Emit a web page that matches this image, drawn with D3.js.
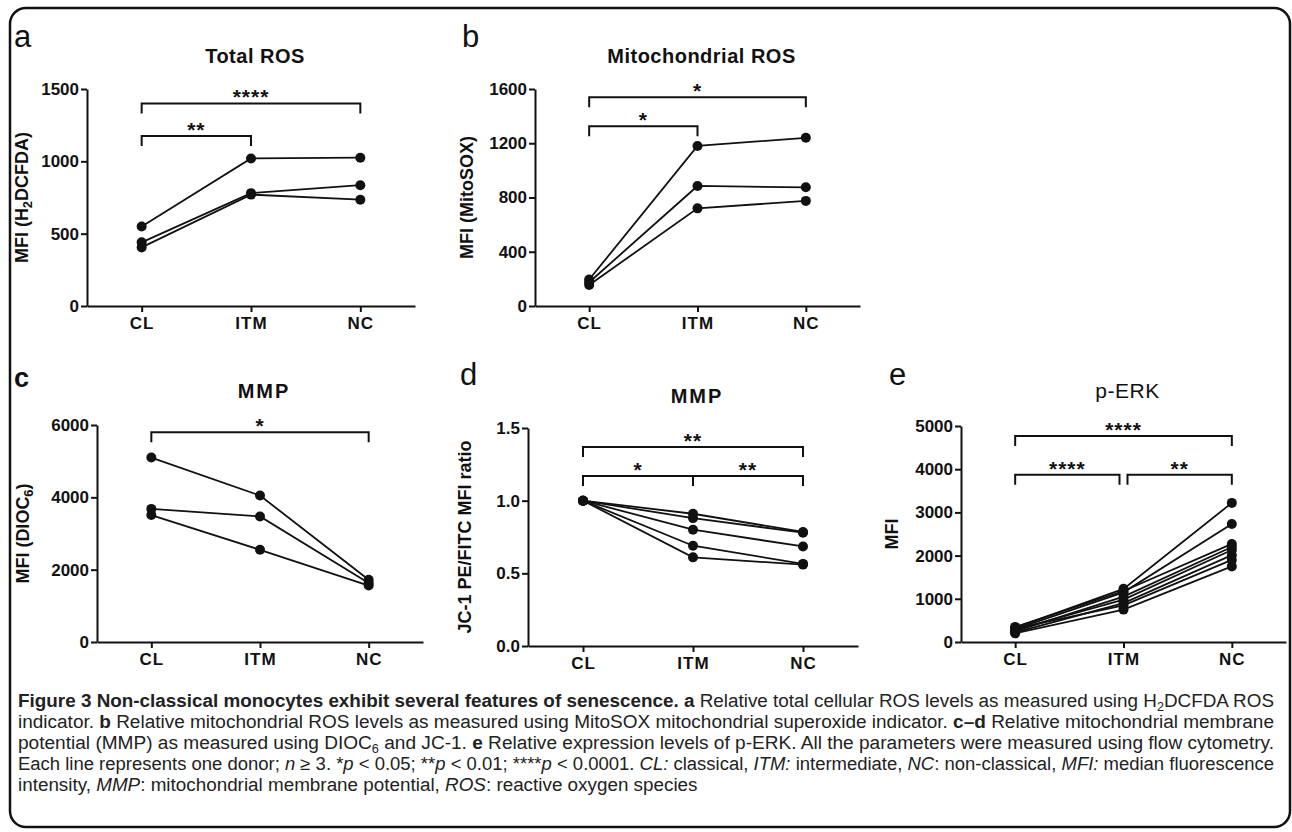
<!DOCTYPE html>
<html>
<head>
<meta charset="utf-8">
<script src="https://cdn.jsdelivr.net/npm/d3@7"></script>
<style>
  body { margin: 0; background: #fff; }
  svg { display: block; }
</style>
</head>
<body>
<svg id="fig" width="1292" height="832"></svg>
<script>
// 0. data (one row per donor: CL, ITM, NC)
const categories = ['CL', 'ITM', 'NC'];

// a. total ROS, MFI (H2DCFDA)
const total_ros = [
  [550, 1020, 1025],
  [440, 780, 835],
  [405, 770, 735]
];
const total_ros_ticks = [0, 500, 1000, 1500];
const total_ros_sig = [['CL', 'NC', '****'], ['CL', 'ITM', '**']];

// b. mitochondrial ROS, MFI (MitoSOX)
const mito_ros = [
  [195, 1180, 1240],
  [175, 885, 875],
  [155, 720, 775]
];
const mito_ros_ticks = [0, 400, 800, 1200, 1600];
const mito_ros_sig = [['CL', 'NC', '*'], ['CL', 'ITM', '*']];

// c. MMP, MFI (DIOC6)
const mmp_dioc = [
  [5100, 4050, 1720],
  [3680, 3470, 1630],
  [3510, 2550, 1560]
];
const mmp_dioc_ticks = [0, 2000, 4000, 6000];
const mmp_dioc_sig = [['CL', 'NC', '*']];

// d. MMP, JC-1 PE/FITC MFI ratio
const mmp_jc1 = [
  [1.0, 0.91, 0.785],
  [1.0, 0.88, 0.78],
  [1.0, 0.80, 0.685],
  [1.0, 0.69, 0.565],
  [1.0, 0.61, 0.56]
];
const mmp_jc1_ticks = [0, 0.5, 1.0, 1.5];
const mmp_jc1_sig = [['CL', 'NC', '**'], ['CL', 'ITM', '*'], ['ITM', 'NC', '**']];

// e. p-ERK, MFI
const p_erk = [
  [330, 1230, 3220],
  [300, 1150, 2730],
  [350, 1180, 2270],
  [250, 1050, 2200],
  [280, 980, 2130],
  [220, 900, 2010],
  [310, 850, 1900],
  [200, 750, 1750]
];
const p_erk_ticks = [0, 1000, 2000, 3000, 4000, 5000];
const p_erk_sig = [['CL', 'NC', '****'], ['CL', 'ITM', '****'], ['ITM', 'NC', '**']];

// caption, one entry per printed line; b = bold, i = italic, sub = subscript
const caption_lines = [
  [{t: 'Figure 3 Non-classical monocytes exhibit several features of senescence.', b: 1}, {t: ' '}, {t: 'a', b: 1},
   {t: ' Relative total cellular ROS levels as measured using H'}, {t: '2', sub: 1}, {t: 'DCFDA ROS'}],
  [{t: 'indicator. '}, {t: 'b', b: 1}, {t: ' Relative mitochondrial ROS levels as measured using MitoSOX mitochondrial superoxide indicator. '},
   {t: 'c\u2013d', b: 1}, {t: ' Relative mitochondrial membrane'}],
  [{t: 'potential (MMP) as measured using DIOC'}, {t: '6', sub: 1}, {t: ' and JC-1. '}, {t: 'e', b: 1},
   {t: ' Relative expression levels of p-ERK. All the parameters were measured using flow cytometry.'}],
  [{t: 'Each line represents one donor; '}, {t: 'n', i: 1}, {t: ' \u2265 3. *'}, {t: 'p', i: 1}, {t: ' < 0.05; **'}, {t: 'p', i: 1},
   {t: ' < 0.01; ****'}, {t: 'p', i: 1}, {t: ' < 0.0001. '}, {t: 'CL:', i: 1}, {t: ' classical, '}, {t: 'ITM:', i: 1},
   {t: ' intermediate, '}, {t: 'NC', i: 1}, {t: ': non-classical, '}, {t: 'MFI:', i: 1}, {t: ' median fluorescence'}],
  [{t: 'intensity, '}, {t: 'MMP', i: 1}, {t: ': mitochondrial membrane potential, '}, {t: 'ROS', i: 1}, {t: ': reactive oxygen species'}]
];

// 1. panel layout (pixels) + annotation levels (data units)
const chart_font = "'Liberation Sans', Arial, sans-serif";
const panels = [
  {letter: 'a', title: 'Total ROS', ylab: [['MFI (H'], ['2', 1], ['DCFDA)']], data: total_ros, ticks: total_ros_ticks,
   fmt: d3.format('d'), sig: total_ros_sig, sig_y: [1400, 1175], gap: 0,
   left: 87, right: 415, top: 89, bottom: 306, ylab_x: 28, letter_xy: [14, 47], title_y: 63},
  {letter: 'b', title: 'Mitochondrial ROS', ylab: [['MFI (MitoSOX)']], data: mito_ros, ticks: mito_ros_ticks,
   fmt: d3.format('d'), sig: mito_ros_sig, sig_y: [1540, 1325], gap: 0,
   left: 535, right: 860, top: 89, bottom: 306, ylab_x: 473, letter_xy: [462, 47], title_y: 63},
  {letter: 'c', title: 'MMP', ylab: [['MFI (DIOC'], ['6', 1], [')']], data: mmp_dioc, ticks: mmp_dioc_ticks,
   fmt: d3.format('d'), sig: mmp_dioc_sig, sig_y: [5800], gap: 0, letter_bold: true,
   left: 97, right: 423, top: 425, bottom: 642, ylab_x: 29, letter_xy: [14, 387], title_y: 398},
  {letter: 'd', title: 'MMP', ylab: [['JC-1 PE/FITC MFI ratio']], data: mmp_jc1, ticks: mmp_jc1_ticks,
   fmt: d3.format('.1f'), sig: mmp_jc1_sig, sig_y: [1.37, 1.17, 1.17], gap: 0,
   left: 528, right: 858, top: 428, bottom: 646, ylab_x: 471, letter_xy: [460, 385], title_y: 403},
  {letter: 'e', title: 'p-ERK', title_regular: true, ylab: [['MFI']], data: p_erk, ticks: p_erk_ticks,
   fmt: d3.format('d'), sig: p_erk_sig, sig_y: [4770, 3870, 3870], gap: 4,
   left: 961, right: 1286, top: 426, bottom: 642, ylab_x: 898, letter_xy: [889, 385], title_y: 398}
];

const svg = d3.select('#fig');

// outer frame
svg.append('rect')
  .attr('x', 10).attr('y', 8)
  .attr('width', 1280).attr('height', 819)
  .attr('rx', 16).attr('ry', 16)
  .attr('fill', 'none')
  .attr('stroke', '#111')
  .attr('stroke-width', 2.5);

// 2. draw one panel
function draw_panel(p){
  const g = svg.append('g').attr('class', 'panel-' + p.letter);

  const y = d3.scaleLinear()
    .domain([0, d3.max(p.ticks)])
    .range([p.bottom, p.top]);

  const x = d3.scalePoint()
    .domain(categories)
    .range([p.left, p.right])
    .padding(0.5);

  // axes
  const y_axis = g.append('g')
    .attr('transform', `translate(${p.left}, 0)`)
    .call(d3.axisLeft(y).tickValues(p.ticks).tickFormat(p.fmt)
      .tickSize(6).tickSizeOuter(0).tickPadding(2));

  const x_axis = g.append('g')
    .attr('transform', `translate(0, ${p.bottom})`)
    .call(d3.axisBottom(x).tickSize(6).tickSizeOuter(0).tickPadding(5));

  [y_axis, x_axis].forEach((a) => {
    a.select('.domain').attr('stroke', '#111').attr('stroke-width', 2);
    a.selectAll('.tick line').attr('stroke', '#111').attr('stroke-width', 2);
    a.selectAll('.tick text')
      .attr('fill', '#111')
      .style('font-family', chart_font)
      .style('font-size', '17px')
      .style('font-weight', 'bold');
  });
  x_axis.selectAll('.tick text').style('letter-spacing', '1px');

  // panel letter
  g.append('text')
    .attr('x', p.letter_xy[0]).attr('y', p.letter_xy[1])
    .style('font-family', chart_font)
    .style('font-size', p.letter_bold ? '27px' : '31px')
    .style('font-weight', p.letter_bold ? 'bold' : 'normal')
    .attr('fill', '#111')
    .text(p.letter);

  // title
  g.append('text')
    .attr('x', (p.left + p.right) / 2 + 4).attr('y', p.title_y)
    .attr('text-anchor', 'middle')
    .style('font-family', chart_font)
    .style('font-size', p.title_regular ? '21px' : '20px')
    .style('font-weight', p.title_regular ? 'normal' : 'bold')
    .style('letter-spacing', p.title === 'MMP' ? '2px' : '0.5px')
    .attr('fill', '#111')
    .text(p.title);

  // y label (rotated, with optional subscript)
  const ylab = g.append('text')
    .attr('transform', `translate(${p.ylab_x}, ${(p.top + p.bottom) / 2}) rotate(-90)`)
    .attr('text-anchor', 'middle')
    .style('font-family', chart_font)
    .style('font-size', '18px')
    .style('font-weight', 'bold')
    .attr('fill', '#111');
  let shift = 0;
  p.ylab.forEach((piece) => {
    const is_sub = piece[1] === 1;
    const dy = (is_sub ? 4 : 0) - shift;
    shift = is_sub ? 4 : 0;
    ylab.append('tspan')
      .attr('dy', dy)
      .style('font-size', is_sub ? '13px' : null)
      .text(piece[0]);
  });

  // donor lines
  const line = d3.line()
    .x((d, i) => x(categories[i]))
    .y((d) => y(d));

  g.append('g').selectAll('path')
    .data(p.data)
    .join('path')
    .attr('d', line)
    .attr('fill', 'none')
    .attr('stroke', '#111')
    .attr('stroke-width', 1.8);

  const pts = [];
  p.data.forEach((row) => row.forEach((v, i) => pts.push([categories[i], v])));
  g.append('g').selectAll('circle')
    .data(pts)
    .join('circle')
    .attr('cx', (d) => x(d[0]))
    .attr('cy', (d) => y(d[1]))
    .attr('r', 5)
    .attr('fill', '#111');

  // significance brackets
  p.sig.forEach((s, k) => {
    let x1 = x(s[0]), x2 = x(s[1]);
    if(p.gap && s[0] === 'ITM'){ x1 += p.gap; }
    if(p.gap && s[1] === 'ITM'){ x2 -= p.gap; }
    const yy = y(p.sig_y[k]);
    g.append('path')
      .attr('d', `M${x1},${yy + 10} V${yy} H${x2} V${yy + 10}`)
      .attr('fill', 'none')
      .attr('stroke', '#111')
      .attr('stroke-width', 2);
    g.append('text')
      .attr('x', (x1 + x2) / 2).attr('y', yy + 1)
      .attr('text-anchor', 'middle')
      .style('font-family', chart_font)
      .style('font-size', '21px')
      .style('font-weight', 'bold')
      .style('letter-spacing', '1px')
      .attr('fill', '#111')
      .text(s[2]);
  });
}

panels.forEach(draw_panel);

// 3. caption (justified lines, squeezed like a condensed face)
function draw_caption(lines, x0, width, y0, lh){
  const texts = [];
  lines.forEach((pieces, li) => {
    const t = svg.append('text')
      .attr('x', x0).attr('y', y0 + li * lh)
      .style('font-family', "'Liberation Sans', Arial, sans-serif")
      .style('font-size', '18px')
      .attr('fill', '#222');
    let shift = 0;
    pieces.forEach((pc) => {
      const dy = (pc.sub ? 4 : 0) - shift;
      shift = pc.sub ? 4 : 0;
      t.append('tspan')
        .attr('dy', dy)
        .style('font-weight', pc.b ? 'bold' : null)
        .style('font-style', pc.i ? 'italic' : null)
        .style('font-size', pc.sub ? '12px' : null)
        .text(pc.t);
    });
    texts.push(t);
  });
  // full width for all but the last line
  const ratios = [];
  texts.forEach((t, i) => {
    const natural = t.node().getComputedTextLength();
    if(i < texts.length - 1){
      ratios.push(width / natural);
      t.attr('textLength', width).attr('lengthAdjust', 'spacingAndGlyphs');
    }else{
      t.attr('textLength', natural * d3.mean(ratios)).attr('lengthAdjust', 'spacingAndGlyphs');
    }
  });
}

draw_caption(caption_lines, 18, 1256, 707, 21);
</script>
</body>
</html>
